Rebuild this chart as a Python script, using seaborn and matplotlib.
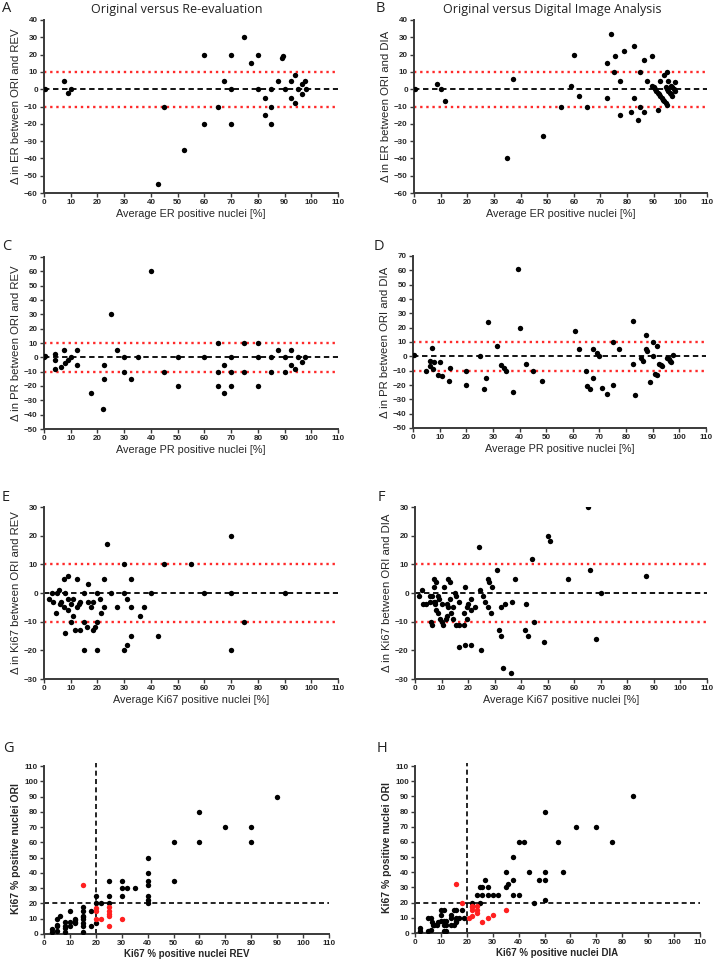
import matplotlib
matplotlib.use("Agg")
import matplotlib.pyplot as plt
import seaborn as sns

# A: ER, original vs re-evaluation
er_rev_avg = [0.5, 7.5, 9, 10, 42.5, 45, 52.5, 60, 60, 65, 67.5, 70, 70, 70, 75, 77.5, 80, 80,
              82.5, 82.5, 85, 85, 85, 87.5, 89, 89.5, 90, 92.5, 92.5, 94, 94, 95, 96.5, 96.5, 97.5, 98]
er_rev_diff = [0, 5, -2, 0, -55, -10, -35, 20, -20, -10, 5, 20, 0, -20, 30, 15, 20, 0,
               -5, -15, 0, -10, -20, 5, 18, 19, 0, 5, -5, 8, -8, 0, 3, -3, 5, 0]

# B: ER, original vs digital image analysis
er_dia_avg = [0.5, 8.5, 10, 11.5, 35, 37, 48.5, 55, 59, 60, 62, 65, 72.5, 72.5, 74, 75, 75.5,
              77.5, 77.5, 79, 81.5, 82.5, 82.5, 84, 85, 85, 86.5, 86.5, 87.5, 89.5, 91.5, 92.5,
              94, 95, 95.5, 98,
              89.5, 90, 90.5, 91, 91.5, 92, 92.5, 93, 93.5, 94, 94.5, 95,
              94.5, 95, 95.5, 96, 96.5, 97,
              96.5, 97, 97.5, 98]
er_dia_diff = [0, 3, 0, -7, -40, 6, -27, -10, 2, 20, -4, -10, 15, -5, 32, 10, 19,
               5, -15, 22, -13, 25, -5, -18, 10, -10, 17, -13, 5, 19, -12, 5,
               8, 10, 5, 4,
               2, 1, 0, -1, -2, -3, -4, -5, -6, -7, -8, -9,
               1, 0, -1, -2, -3, -4,
               2, 1, 0, -1]

# C: PR, original vs re-evaluation
pr_rev_avg = [0, 0.5, 4, 4, 4, 6.5, 7.5, 8, 9, 10, 12.5, 12.5, 17.5, 22, 22.5, 22.5, 25, 27.5,
              30, 30, 32.5, 35, 40, 45, 50, 50, 60, 65, 65, 65, 67.5, 67.5, 70, 70, 70, 75, 75,
              80, 80, 80, 85, 85, 87.5, 90, 90, 92.5, 92.5, 94, 95, 96.5, 97.5]
pr_rev_diff = [0, 1, 2, -2, -8, -7, 5, -4, -2, 0, 5, -5, -25, -36, -5, -15, 30, 5,
               0, -10, -15, 0, 60, -10, 0, -20, 0, 10, -10, -20, -5, -25, 0, -10, -20, 10, -10,
               10, 0, -20, 0, -10, 5, 0, -10, 5, -5, -8, 0, -3, 0]

# D: PR, original vs digital image analysis
pr_dia_avg = [0.5, 5, 6.5, 6.5, 7, 7.5, 8, 9.5, 10, 11, 13.5, 14, 20, 20, 25, 26.5, 27.5, 28,
              31.5, 33, 34, 35, 37.5, 39.5, 40, 42.5, 45, 48.5, 61, 62.5, 65, 65.5, 66.5,
              67.5, 67.5, 69, 70, 71, 73, 75, 75, 77.5, 82.5, 82.5, 83.5, 85.5, 86.5, 87.5,
              87.5, 88, 89, 90, 90, 91, 91.5, 91.5, 92.5, 93, 93.5, 95.5, 96, 96.5, 97, 97.5]
pr_dia_diff = [1, -10, -3, -7, 6, -9, -4, -13, -4, -14, -17, -8, -10, -20, 0, -23, -15, 24,
               7, -6, -8, -10, -25, 61, 20, -5, -10, -17, 18, 5, -10, -21, -23,
               5, -15, 2, 0, -22, -26, 10, -20, 5, -5, 25, -27, -1, -3, 15,
               5, 4, -18, 10, 0, -12, -13, 7, -5, -6, -7, -1, -2, -3, -4, 1]

# E: Ki67, original vs re-evaluation
ki_rev_avg = [2, 3, 3.5, 4.5, 5, 5.5, 6, 6.5, 7.5, 7.5, 8, 8, 9, 9, 9, 10, 10, 11, 11, 11.5,
              12.5, 12.5, 13, 13.5, 13.5, 15, 15, 15, 16, 16.5, 16.5, 17.5, 18.5, 18.5, 19,
              20, 20, 20, 21, 21.5, 22.5, 22.5, 23.5, 25, 27.5, 30, 30, 30, 31, 31,
              32.5, 32.5, 32.5, 36, 37.5, 40, 42.5, 45, 55, 60, 70, 70, 70, 75, 90]
ki_rev_diff = [-2, 0, -3, -7, 0, 1, -4, -3, 5, -5, 0, -14, 6, -2, -6, -4, -10, -2, -8, -13,
               5, -5, -4, -3, -13, 0, -10, -20, -12, 3, -3, -5, -3, -13, -12,
               0, -10, -20, -2, -7, 5, -5, 17, 0, -5, 10, 0, -20, -2, -18,
               5, -5, -15, -8, -5, 0, -15, 10, 10, 0, 20, 0, -20, -10, 0]

# F: Ki67, original vs digital image analysis
ki_dia_avg = [1.5, 2.5, 3, 4, 5.5, 5.5, 6, 6.5, 6.5, 7, 7.2, 8, 7, 7.5, 7.5, 8, 8.5, 8.5, 9,
              9.5, 10, 10.5, 10, 11, 11.5, 12, 12, 12.5, 12.5, 13, 13, 13.5, 14.5, 14.5, 15,
              15.5, 15.5, 16.5, 16.5, 16.5, 18.5, 18.5, 19, 19, 19.5, 19.5, 20, 21, 21, 21,
              22.5, 24, 24.5, 25, 25.5, 26.5, 27.5, 28, 27.5, 28.5, 29, 31, 31.5, 32.5, 32.5,
              33, 34, 36, 36.5, 37.5, 41.5, 42, 42.5, 44, 45, 48.5, 50, 51, 57.5, 65, 66,
              68, 70, 87]
ki_dia_diff = [-1, 1, -4, -4, -1, -3, -10, -11, -1, 2, 5, 4, -3, -4, -3, -6, -7, -1, -2,
               -9, -10, -11, -4, 2, -9, -8, -4, -5, 5, 4, -2, -7, -5, -9, 0,
               -1, -11, -11, -3, -19, -7, -11, 2, -18, -9, -5, -4, -2, -6, -18,
               -5, 16, 1, -20, -1, -3, 5, 4, -5, -7, 2, 8, -13, -5, -15,
               -26, -4, -28, -3, 5, -13, -4, -15, 12, -10, -17, 20, 18, 5, 30, 8,
               -16, 0, 6]

# G: Ki67 REV (x) vs ORI (y)
g_rev = [3, 3, 5, 5, 5, 5, 6, 8, 8, 8, 8, 10, 10, 10, 12, 12, 12, 12,
         15, 15, 15, 15, 15, 15, 15, 15, 18, 18, 20, 20, 20, 22, 25, 25, 25,
         30, 30, 30, 32, 35, 40, 40, 40, 40, 40, 40, 40, 50, 50, 60, 60, 70, 80, 80, 90]
g_ori = [3, 1, 10, 6, 5, 2, 12, 8, 5, 4, 1, 15, 8, 5, 10, 9, 8, 7,
         18, 15, 12, 11, 10, 7, 5, 1, 15, 5, 25, 20, 7, 20, 35, 25, 20,
         35, 30, 25, 30, 30, 50, 40, 35, 32, 25, 22, 20, 60, 35, 80, 60, 70, 70, 60, 90]
g_rev_red = [15, 20, 20, 20, 22, 25, 25, 25, 25, 25, 30]
g_ori_red = [32, 17, 15, 10, 10, 18, 15, 13, 12, 5, 10]

# H: Ki67 DIA (x) vs ORI (y)
h_dia = [2, 2, 5, 5, 6, 6, 6.5, 7, 7.5, 8.5, 9, 10, 10, 10, 11, 11, 11, 11, 12, 12, 12,
         14, 14, 14, 15, 15, 16, 16, 16, 16, 17, 18, 19, 22, 24, 25, 25, 26, 26, 27, 28, 28,
         30, 32, 35, 35, 36, 38, 38, 38, 40, 40, 42, 44, 46, 48, 50, 50, 50, 50, 55, 57,
         62, 70, 76, 84]
h_ori = [3, 1, 10, 1, 10, 2, 7, 5, 5, 5, 7, 8, 15, 12, 15, 8, 5, 1, 1, 5, 8,
         12, 10, 5, 15, 5, 15, 8, 10, 7, 10, 15, 10, 20, 25, 30, 20, 25, 30, 35, 25, 30,
         25, 25, 40, 30, 32, 50, 35, 25, 60, 25, 60, 40, 20, 35, 80, 40, 35, 22, 60, 40,
         70, 70, 60, 90]
h_dia_red = [16, 18, 21, 22, 22, 22, 22, 24, 24, 24, 26, 28, 30, 35]
h_ori_red = [32, 20, 10, 18, 17, 15, 11, 18, 15, 13, 7, 10, 12, 15]

sns.set_style("ticks")
plt.rcParams["font.family"] = ["Liberation Sans", "DejaVu Sans"]

W, H = 714, 959
fig = plt.figure(figsize=(W / 100, H / 100), dpi=100)

SPINE = "#3a3a3a"


def make_ax(left, top, right, bottom):
    return fig.add_axes([left / W, 1 - bottom / H, (right - left) / W, (bottom - top) / H])


def style(ax, xticks, yticks):
    sns.despine(ax=ax)
    for s in ("left", "bottom"):
        ax.spines[s].set_linewidth(1.4)
        ax.spines[s].set_color(SPINE)
    ax.set_xticks(xticks)
    ax.set_yticks(yticks)
    ax.tick_params(length=3, width=1, color=SPINE, pad=1.5, labelsize=5.8)
    for lab in ax.get_xticklabels() + ax.get_yticklabels():
        lab.set_fontweight("bold")
    ax.grid(False)


def bland_altman(ax, avg, diff, ylo, yhi, xlabel, ylabel):
    ax.axhline(0, color="black", ls=(0, (3, 2)), lw=1.3, zorder=2)
    ax.axhline(10, color="#ff2a2a", ls=(0, (1, 1.6)), lw=1.7, zorder=2)
    ax.axhline(-10, color="#ff2a2a", ls=(0, (1, 1.6)), lw=1.7, zorder=2)
    sns.scatterplot(x=avg, y=diff, ax=ax, color="black", s=15, linewidth=0, zorder=3)
    ax.set_xlim(0, 110)
    ax.set_ylim(ylo, yhi)
    style(ax, range(0, 111, 10), range(ylo, yhi + 1, 10))
    ax.set_xlabel(xlabel, fontsize=7.8, labelpad=2)
    ax.set_ylabel(ylabel, fontsize=8.2, labelpad=2)


def agreement(ax, xb, yb, xr, yr, xlabel, ylabel, hline):
    ax.axvline(20, color="black", ls=(0, (3, 2)), lw=1.2, zorder=2)
    ax.axhline(hline, color="black", ls=(0, (3, 2)), lw=1.2, zorder=2)
    sns.scatterplot(x=xb, y=yb, ax=ax, color="black", s=15, linewidth=0, zorder=3)
    sns.scatterplot(x=xr, y=yr, ax=ax, color="#ff2020", s=15, linewidth=0, zorder=4)
    ax.set_xlim(0, 110)
    ax.set_ylim(0, 112)
    style(ax, range(0, 111, 10), range(0, 111, 10))
    ax.spines["left"].set_bounds(0, 110)
    ax.set_xlabel(xlabel, fontsize=7, fontweight="bold", labelpad=1)
    ax.set_ylabel(ylabel, fontsize=7.5, fontweight="bold", labelpad=2)


axA = make_ax(44, 20, 338, 193)
axB = make_ax(414, 20, 707, 193)
axC = make_ax(44, 257, 338, 429)
axD = make_ax(413, 256, 706, 428)
axE = make_ax(44, 507, 338, 679)
axF = make_ax(415, 507, 707, 679)
axG = make_ax(44, 763, 329, 934)
axH = make_ax(415, 763, 700, 933)

bland_altman(axA, er_rev_avg, er_rev_diff, -60, 40, "Average ER positive nuclei [%]",
             "\u0394 in ER between ORI and REV")
bland_altman(axB, er_dia_avg, er_dia_diff, -60, 40, "Average ER positive nuclei [%]",
             "\u0394 in ER between ORI and DIA")
bland_altman(axC, pr_rev_avg, pr_rev_diff, -50, 70, "Average PR positive nuclei [%]",
             "\u0394 in PR between ORI and REV")
bland_altman(axD, pr_dia_avg, pr_dia_diff, -50, 70, "Average PR positive nuclei [%]",
             "\u0394 in PR between ORI and DIA")
bland_altman(axE, ki_rev_avg, ki_rev_diff, -30, 30, "Average Ki67 positive nuclei [%]",
             "\u0394 in Ki67 between ORI and REV")
bland_altman(axF, ki_dia_avg, ki_dia_diff, -30, 30, "Average Ki67 positive nuclei [%]",
             "\u0394 in Ki67 between ORI and DIA")
agreement(axG, g_rev, g_ori, g_rev_red, g_ori_red, "Ki67 % positive nuclei REV",
          "Ki67 % positive nuclei ORI", 20)
agreement(axH, h_dia, h_ori, h_dia_red, h_ori_red, "Ki67 % positive nuclei DIA",
          "Ki67 % positive nuclei ORI", 19.5)

head = dict(family=["Open Sans", "DejaVu Sans"], color="#222222")
fig.text(177 / W, 1 - 10 / H, "Original versus Re-evaluation", ha="center", va="center",
         fontsize=9, **head)
fig.text(552 / W, 1 - 9 / H, "Original versus Digital Image Analysis", ha="center", va="center",
         fontsize=9, **head)
for letter, x, y in [("A", 2, 8), ("B", 376, 8), ("C", 2, 247), ("D", 374, 246),
                     ("E", 2, 497), ("F", 378, 497), ("G", 3, 749), ("H", 377, 748)]:
    fig.text(x / W, 1 - y / H, letter, ha="left", va="center", fontsize=10.5, **head)

fig.savefig("out.png", dpi=100)
